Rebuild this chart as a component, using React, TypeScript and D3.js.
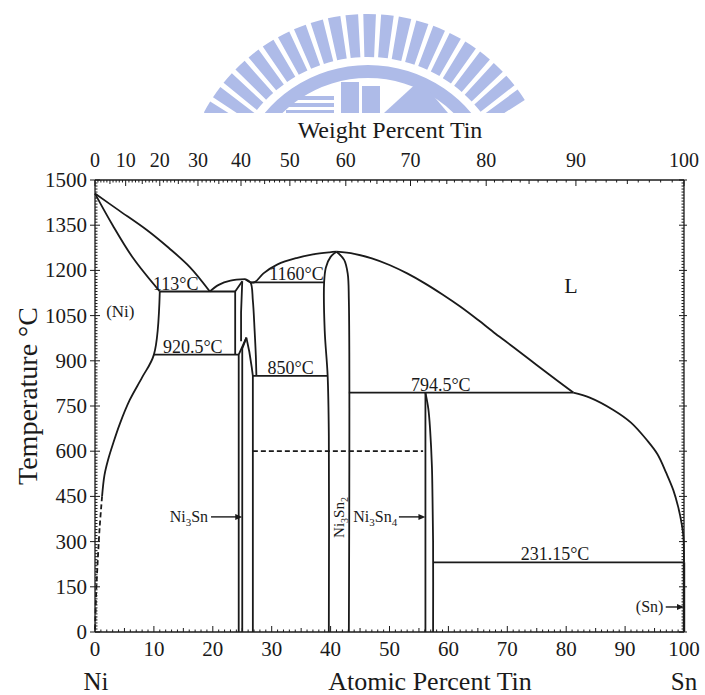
import * as d3 from 'd3';

// axis ticks
const atomicTicks = d3.range(0, 101, 10);
const weightTicks = d3.range(0, 101, 10);
const tempTicks = d3.range(0, 1501, 150);

// phase boundaries, [atomic % Sn, temperature °C]
const niLiquidus = [[0, 1455], [4, 1400], [8.8, 1334], [12.5, 1275], [16.1, 1211], [19.5, 1130]];
const niSolidus = [[0, 1455], [3, 1350], [6.5, 1240], [11, 1130]];
const niSolvus = [[11, 1130], [10, 920.5], [8, 845], [5.9, 770], [4.2, 690], [3.1, 627], [2.2, 570], [1.6, 520], [1.2, 450]];
const niSolvusDashed = [[1.2, 450], [0.8, 350], [0.5, 250], [0.2, 130], [0, 0]];
const liquidusA = [[19.5, 1130], [21, 1152], [23, 1166], [25.5, 1171]];
const liquidusB = [[25.5, 1171], [26.4, 1160], [27.2, 1162], [28.6, 1190], [31, 1220], [34.2, 1241], [37, 1253], [39.8, 1260], [41, 1262]];
const liquidusC = [[41, 1262], [44, 1255], [47, 1240], [50, 1218], [53, 1190], [56, 1157], [59, 1120], [62, 1080], [65, 1036], [68, 990], [71, 946], [74, 901], [77, 856], [81.2, 794.5]];
const snLiquidus = [[81.2, 794.5], [84, 778], [88, 737], [91, 695], [93.7, 637], [95.5, 590], [97, 527], [98.2, 470], [99, 416], [99.6, 360], [99.9, 316], [100, 231.15]];
const htLeft = [[23.8, 920.5], [23.8, 1130], [25.0, 1164]];
const htInner = [[25.0, 1164], [24.8, 1060], [24.8, 965]];
const htRight = [[25.5, 1171], [26.4, 1160], [26.8, 1100], [27.1, 1000], [27.3, 920], [27.4, 850]];
const ltLeft = [[24.4, 0], [24.4, 920.5], [25.7, 977]];
const ltInner = [[25.0, 0], [25.0, 940], [25.7, 977]];
const ltRight = [[25.7, 977], [26.2, 930], [26.6, 880], [26.8, 850], [26.8, 0]];
const n32Left = [[41, 1262], [40, 1245], [39.2, 1210], [38.9, 1160], [39.0, 1000], [39.5, 850], [39.7, 650], [39.7, 0]];
const n32Right = [[41, 1262], [42.3, 1235], [42.9, 1190], [43.1, 1100], [43.1, 0]];
const n34Left = [[56.1, 794.5], [56.1, 0]];
const n34Right = [[56.1, 794.5], [56.6, 740], [56.9, 670], [57.2, 550], [57.3, 449], [57.4, 300], [57.4, 0]];
const snSide = [[100, 231.15], [100, 0]];

// invariant temperatures: [temperature, from at%, to at%]
const isotherms = [[1130, 11, 23.8], [920.5, 10, 24.4], [1160, 26.4, 38.9], [850, 26.8, 39.5], [794.5, 43.1, 81.2], [231.15, 57.4, 100]];
const dashedIsotherms = [[600, 26.8, 55.7]];

// text labels: [text, at%, °C]
const tempLabels = [['113°C', 13.7, 1136], ['920.5°C', 16.6, 927], ['1160°C', 34.2, 1168], ['850°C', 33.2, 857], ['794.5°C', 58.7, 801], ['231.15°C', 78.1, 238]];

const W = 705;
const H = 695;
const serif = "'Liberation Serif', 'Times New Roman', serif";
const ink = '#1a1a1a';
const logoBlue = '#aebbe8';

const x = d3.scaleLinear().domain([0, 100]).range([95, 684]);
const y = d3.scaleLinear().domain([0, 1500]).range([632, 180]);

const wtToAt = (w: number) => {
  const a = w / 118.71;
  const b = (100 - w) / 58.69;
  return (100 * a) / (a + b);
};

const straight = d3.line<number[]>().x((d) => x(d[0])).y((d) => y(d[1]));
const smooth = d3
  .line<number[]>()
  .x((d) => x(d[0]))
  .y((d) => y(d[1]))
  .curve(d3.curveCatmullRom.alpha(0.5));

function Logo() {
  const cx = 368;
  const cy = 200;
  const bars = d3.range(-60, 60.1, 5.5);
  const barArc = d3.arc<any>();
  const band = d3.arc<any>()({ innerRadius: 122, outerRadius: 135, startAngle: -1.2, endAngle: 1.2 } as any);
  return (
    <g fill={logoBlue} clipPath="url(#logoClip)">
      {bars.map((deg) => {
        const a = (deg * Math.PI) / 180;
        const p = barArc({ innerRadius: 143, outerRadius: 186, startAngle: a - 0.034, endAngle: a + 0.034 } as any);
        return <path key={deg} d={p || ''} transform={`translate(${cx},${cy})`} />;
      })}
      <path d={band || ''} transform={`translate(${cx},${cy})`} />
      <rect x={286} y={96} width={48} height={4} />
      <rect x={286} y={103} width={48} height={4} />
      <rect x={286} y={110} width={48} height={3} />
      <rect x={341} y={82} width={18} height={31} />
      <rect x={362} y={86} width={18} height={27} />
      <polygon points="384,113 420,80 448,113" />
    </g>
  );
}

export default function App() {
  const curves = [niLiquidus, niSolidus, niSolvus, liquidusA, liquidusB, liquidusC, snLiquidus, htRight, n32Left, n32Right, n34Right];
  const lines = [htLeft, htInner, ltLeft, ltInner, ltRight, n34Left];

  const atMinor = d3.range(0, 101, 1);
  const wtMinor = d3.range(0, 101, 1);
  const tMinor = d3.range(0, 1501, 10);

  return (
    <svg width={W} height={H} style={{ position: 'absolute', left: 0, top: 0, background: '#fff' }}>
      <defs>
        <clipPath id="logoClip">
          <rect x={0} y={0} width={W} height={113} />
        </clipPath>
      </defs>
      <rect width={W} height={H} fill="#fff" />
      <Logo />

      {/* frame */}
      <g stroke={ink} strokeWidth={1.3} fill="none">
        <line x1={x(0)} x2={x(100)} y1={y(0)} y2={y(0)} />
        <line x1={x(0)} x2={x(100)} y1={y(1500)} y2={y(1500)} />
        <line x1={x(0)} x2={x(0)} y1={y(0)} y2={y(1500)} />
        <line x1={x(100)} x2={x(100)} y1={y(0)} y2={y(1500)} />
      </g>

      {/* ticks */}
      <g stroke={ink} strokeWidth={1}>
        {atMinor.map((v) => (
          <line key={'am' + v} x1={x(v)} x2={x(v)} y1={y(0)} y2={y(0) - (v % 10 === 0 ? 6 : v % 5 === 0 ? 4 : 2.5)} />
        ))}
        {wtMinor.map((v) => (
          <line key={'wm' + v} x1={x(wtToAt(v))} x2={x(wtToAt(v))} y1={y(1500)} y2={y(1500) + (v % 10 === 0 ? 6 : v % 5 === 0 ? 4 : 2.5)} />
        ))}
        {tMinor.map((v) => (
          <g key={'tm' + v}>
            <line x1={x(0) - (v % 150 === 0 ? 5 : 0)} x2={x(0) + (v % 150 === 0 ? 5 : 2.5)} y1={y(v)} y2={y(v)} />
            <line x1={x(100) - (v % 150 === 0 ? 5 : 2.5)} x2={x(100) + (v % 150 === 0 ? 3 : 0)} y1={y(v)} y2={y(v)} />
          </g>
        ))}
      </g>

      {/* tick labels */}
      <g fontFamily={serif} fill={ink}>
        {atomicTicks.map((v) => (
          <text key={'at' + v} x={x(v)} y={656} fontSize={21} textAnchor="middle">{v}</text>
        ))}
        {weightTicks.map((v) => (
          <text key={'wt' + v} x={x(wtToAt(v))} y={167} fontSize={20} textAnchor="middle">{v}</text>
        ))}
        {tempTicks.map((v) => (
          <text key={'tt' + v} x={87} y={y(v) + 7} fontSize={21} textAnchor="end">{v}</text>
        ))}
      </g>

      {/* axis titles */}
      <g fontFamily={serif} fill={ink}>
        <text x={390} y={138} fontSize={24} textAnchor="middle">Weight Percent Tin</text>
        <text x={430} y={690} fontSize={26} textAnchor="middle">Atomic Percent Tin</text>
        <text x={96} y={690} fontSize={25} textAnchor="middle">Ni</text>
        <text x={684} y={690} fontSize={25} textAnchor="middle">Sn</text>
        <text transform="translate(37,396) rotate(-90)" fontSize={28} textAnchor="middle">Temperature °C</text>
      </g>

      {/* phase boundaries */}
      <g stroke={ink} strokeWidth={1.8} fill="none" strokeLinejoin="round">
        {curves.map((c, i) => (
          <path key={'c' + i} d={smooth(c as any) || ''} />
        ))}
        {lines.map((c, i) => (
          <path key={'l' + i} d={straight(c as any) || ''} />
        ))}
        <path d={straight(snSide as any) || ''} strokeWidth={2.4} />
        {isotherms.map(([t, a, b]) => (
          <line key={'iso' + t} x1={x(a)} x2={x(b)} y1={y(t)} y2={y(t)} />
        ))}
        {dashedIsotherms.map(([t, a, b]) => (
          <line key={'dash' + t} x1={x(a)} x2={x(b)} y1={y(t)} y2={y(t)} strokeDasharray="5,3" />
        ))}
        <path d={smooth(niSolvusDashed as any) || ''} strokeDasharray="5,3" />
      </g>

      {/* labels */}
      <g fontFamily={serif} fill={ink}>
        {tempLabels.map(([t, a, c]) => (
          <text key={t as string} x={x(a as number)} y={y(c as number)} fontSize={18} textAnchor="middle">{t}</text>
        ))}
        <text x={x(80.8)} y={y(1125)} fontSize={22} textAnchor="middle">L</text>
        <text x={x(4.3)} y={y(1045)} fontSize={17} textAnchor="middle">(Ni)</text>

        <text x={x(19.2)} y={y(382) + 5} fontSize={16} textAnchor="end">
          Ni<tspan fontSize={11} dy={4}>3</tspan><tspan dy={-4}>Sn</tspan>
        </text>
        <text x={x(51.3)} y={y(382) + 5} fontSize={16} textAnchor="end">
          Ni<tspan fontSize={11} dy={4}>3</tspan><tspan dy={-4}>Sn</tspan><tspan fontSize={11} dy={4}>4</tspan>
        </text>
        <text x={x(96.5)} y={y(83) + 5} fontSize={16} textAnchor="end">(Sn)</text>
        <text transform={`translate(${x(41.4) + 5},${y(380)}) rotate(-90)`} fontSize={15} textAnchor="middle">
          Ni<tspan fontSize={10} dy={4}>3</tspan><tspan dy={-4}>Sn</tspan><tspan fontSize={10} dy={4}>2</tspan>
        </text>
      </g>

      {/* arrows */}
      <g stroke={ink} strokeWidth={1.4} fill={ink}>
        {[[19.7, 25.0, 382], [51.6, 56.1, 382], [96.9, 100, 83]].map(([a, b, t], i) => (
          <g key={'ar' + i}>
            <line x1={x(a)} x2={x(b) - 5} y1={y(t)} y2={y(t)} />
            <polygon points={`${x(b) - 7},${y(t) - 3} ${x(b)},${y(t)} ${x(b) - 7},${y(t) + 3}`} stroke="none" />
          </g>
        ))}
      </g>
    </svg>
  );
}
